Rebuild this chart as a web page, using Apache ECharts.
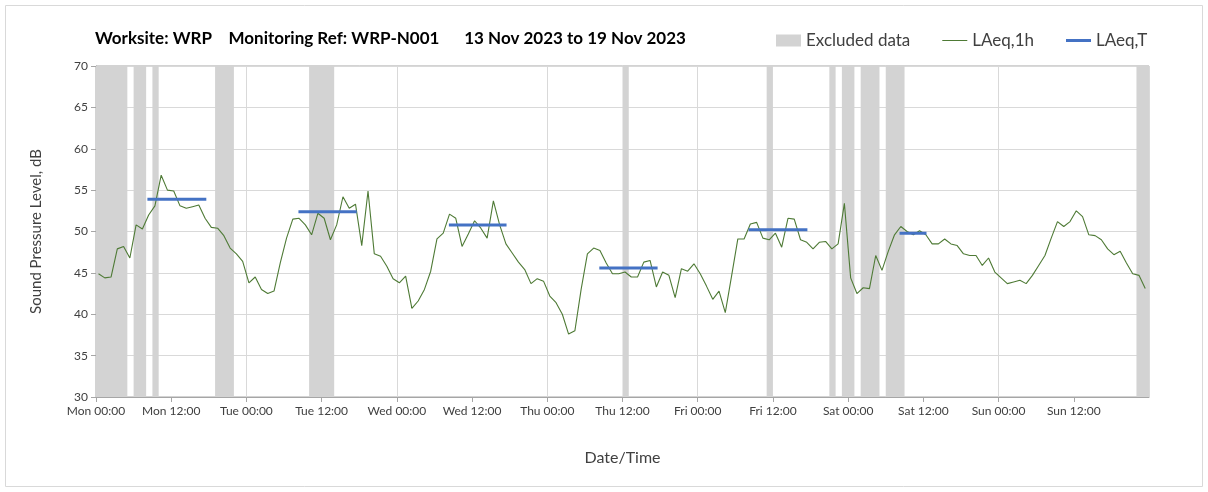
<!DOCTYPE html>
<html>
<head>
<meta charset="utf-8">
<title>WRP-N001 noise monitoring</title>
<script src="https://cdn.jsdelivr.net/npm/echarts@6/dist/echarts.min.js"></script>
<style>
  html, body { margin: 0; padding: 0; background: #fff; }
  #grafico { width: 1208px; height: 492px; }
</style>
</head>
<body>
<div id="grafico"></div>
<script>
// ---- data ----
const dayNames = ['Mon', 'Tue', 'Wed', 'Thu', 'Fri', 'Sat', 'Sun'];

// hourly LAeq,1h (dB), one array per day, 00:00 .. 23:00
const monLAeq1h = [44.9, 44.4, 44.5, 47.9, 48.2, 46.8, 50.8, 50.3, 52.0, 53.1, 56.8, 55.0,
                   54.9, 53.1, 52.8, 53.0, 53.2, 51.6, 50.5, 50.4, 49.5, 48.0, 47.3, 46.4];
const tueLAeq1h = [43.8, 44.5, 43.0, 42.5, 42.8, 46.2, 49.2, 51.5, 51.6, 50.8, 49.6, 52.2,
                   51.6, 49.0, 50.8, 54.2, 52.8, 53.3, 48.3, 54.9, 47.3, 47.0, 45.8, 44.3];
const wedLAeq1h = [43.8, 44.6, 40.7, 41.6, 43.0, 45.2, 49.1, 49.8, 52.1, 51.6, 48.2, 49.7,
                   51.3, 50.4, 49.2, 53.7, 50.8, 48.5, 47.4, 46.3, 45.4, 43.7, 44.3, 44.0];
const thuLAeq1h = [42.2, 41.4, 40.0, 37.6, 38.0, 43.0, 47.3, 48.0, 47.7, 46.2, 44.9, 44.9,
                   45.1, 44.5, 44.5, 46.3, 46.5, 43.3, 45.1, 44.7, 42.0, 45.5, 45.2, 46.1];
const friLAeq1h = [44.9, 43.4, 41.8, 42.8, 40.2, 44.6, 49.1, 49.1, 50.9, 51.1, 49.2, 49.0,
                   49.8, 48.1, 51.6, 51.5, 49.0, 48.7, 47.9, 48.7, 48.8, 47.9, 48.5, 53.4];
const satLAeq1h = [44.4, 42.5, 43.2, 43.1, 47.1, 45.3, 47.6, 49.6, 50.6, 50.0, 49.6, 50.1,
                   49.6, 48.5, 48.5, 49.1, 48.5, 48.3, 47.3, 47.1, 47.1, 45.9, 46.8, 45.1];
const sunLAeq1h = [44.4, 43.7, 43.9, 44.1, 43.7, 44.7, 45.9, 47.1, 49.2, 51.2, 50.6, 51.2,
                   52.5, 51.8, 49.6, 49.5, 49.0, 47.9, 47.2, 47.6, 46.2, 44.9, 44.7, 43.1];

// LAeq,T daytime periods: [start hour, end hour, level dB] (hours from Mon 00:00)
const laeqTPeriods = [
    [8.2, 17.6, 53.9],
    [32.3, 41.6, 52.4],
    [56.3, 65.5, 50.8],
    [80.3, 89.6, 45.6],
    [104.1, 113.5, 50.2],
    [128.2, 132.5, 49.8]
];

// excluded periods: [start hour, end hour]
const excludedPeriods = [
    [0, 5], [6, 8], [9, 10], [19, 22], [34, 38], [84, 85],
    [107, 108], [117, 118], [119, 121], [122, 125], [126, 129], [166, 168]
];

// ---- build series data ----
const hourly = [].concat(monLAeq1h, tueLAeq1h, wedLAeq1h, thuLAeq1h, friLAeq1h, satLAeq1h, sunLAeq1h);
const HOUR_OFFSET = 0.4; // points sit a little after the hour start
const lineData = hourly.map((v, i) => [i + HOUR_OFFSET, v]);

const FONT = 'Lato, "Open Sans", sans-serif';
const Y_MIN = 30, Y_MAX = 70;

const chartDom = document.getElementById('grafico');
const myChart = echarts.init(chartDom);

const laeqTSeries = laeqTPeriods.map(p => ({
    name: 'LAeq,T',
    type: 'line',
    data: [[p[0], p[2]], [p[1], p[2]]],
    symbol: 'none',
    lineStyle: { color: '#4472C4', width: 3 },
    itemStyle: { color: '#4472C4' },
    silent: true,
    z: 4
}));

const option = {
    animation: false,
    textStyle: { fontFamily: FONT },
    graphic: [{
        type: 'rect',
        shape: { x: 5.5, y: 5.5, width: 1197, height: 481 },
        style: { fill: 'none', stroke: '#d9d9d9', lineWidth: 1 },
        silent: true
    }],
    title: {
        text: 'Worksite: WRP    Monitoring Ref: WRP-N001      13 Nov 2023 to 19 Nov 2023',
        left: 90,
        top: 25,
        textStyle: { fontFamily: FONT, fontSize: 17, fontWeight: 'bold', color: '#000' }
    },
    legend: {
        left: 771,
        top: 27,
        itemWidth: 25,
        itemHeight: 12,
        itemGap: 32,
        textStyle: { fontFamily: FONT, fontSize: 17, color: '#404040' },
        data: [
            { name: 'Excluded data', icon: 'rect' },
            { name: 'LAeq,1h', icon: 'path://M0,0H25V1H0Z' },
            { name: 'LAeq,T', icon: 'path://M0,0H25V3H0Z' }
        ]
    },
    grid: { left: 96, right: 59, top: 66, bottom: 95, show: true, borderColor: '#a6a6a6', borderWidth: 1 },
    xAxis: {
        type: 'value',
        min: 0,
        max: 168,
        interval: 12,
        name: 'Date/Time',
        nameLocation: 'middle',
        nameGap: 53,
        nameTextStyle: { fontFamily: FONT, fontSize: 16, color: '#404040' },
        axisLine: { show: true, lineStyle: { color: '#a6a6a6' } },
        axisTick: { show: true, length: 5, lineStyle: { color: '#a6a6a6' } },
        axisLabel: {
            color: '#404040',
            fontSize: 12,
            margin: 8,
            showMaxLabel: false,
            formatter: v => v >= 168 ? '' : dayNames[Math.floor(v / 24)] + ' ' + (v % 24 === 0 ? '00:00' : '12:00')
        },
        splitLine: { show: true, lineStyle: { color: ['#d9d9d9', 'rgba(0,0,0,0)'], width: 1 } }
    },
    yAxis: {
        type: 'value',
        min: Y_MIN,
        max: Y_MAX,
        interval: 5,
        name: 'Sound Pressure Level, dB',
        nameLocation: 'middle',
        nameGap: 52,
        nameTextStyle: { fontFamily: FONT, fontSize: 15, color: '#404040' },
        axisLine: { show: true, lineStyle: { color: '#a6a6a6' } },
        axisTick: { show: true, length: 5, lineStyle: { color: '#a6a6a6' } },
        axisLabel: { color: '#404040', fontSize: 12, margin: 8 },
        splitLine: { show: true, lineStyle: { color: '#d9d9d9', width: 1.2 } }
    },
    series: [
        {
            name: 'Excluded data',
            type: 'custom',
            silent: true,
            z: 1,
            itemStyle: { color: '#d3d3d3' },
            encode: { x: [0, 1] },
            data: excludedPeriods,
            renderItem: (params, api) => {
                const p0 = api.coord([api.value(0), Y_MAX]);
                const p1 = api.coord([api.value(1), Y_MIN]);
                return {
                    type: 'rect',
                    shape: { x: p0[0], y: p0[1], width: p1[0] - p0[0], height: p1[1] - p0[1] },
                    style: { fill: '#d3d3d3' }
                };
            }
        },
        {
            name: 'LAeq,1h',
            type: 'line',
            data: lineData,
            symbol: 'none',
            lineStyle: { color: '#4e7a35', width: 1.1 },
            itemStyle: { color: '#4e7a35' },
            silent: true,
            z: 3
        }
    ].concat(laeqTSeries)
};

option && myChart.setOption(option);

window.addEventListener('resize', () => {
    myChart.resize();
});
</script>
</body>
</html>
